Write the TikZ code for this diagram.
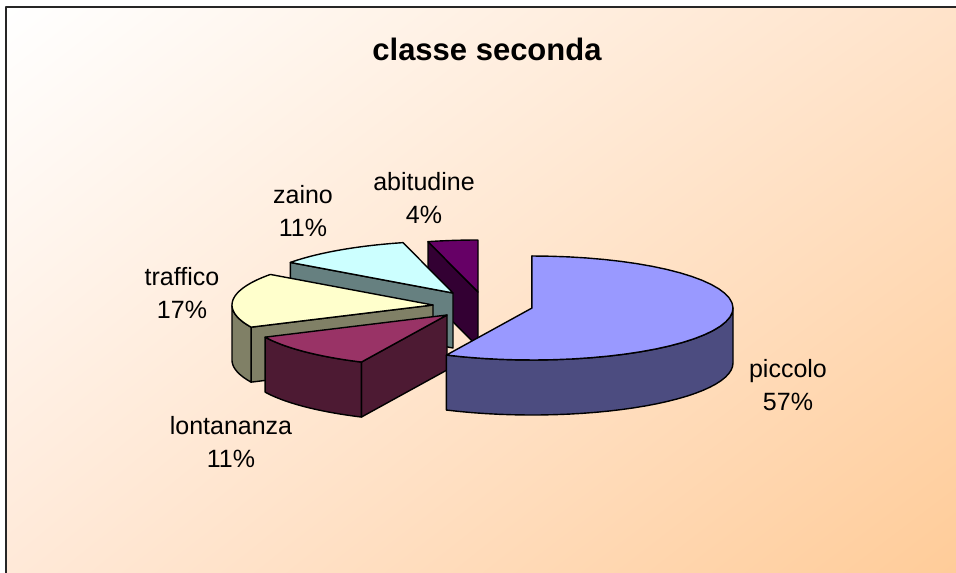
\documentclass[tikz,border=0pt]{standalone}
\usepackage{fontspec}
\setmainfont{Liberation Sans}
\usetikzlibrary{shadings}

\definecolor{toppiccolo}{HTML}{9999FF}
\definecolor{sidepiccolo}{HTML}{4C4C80}
\definecolor{toplontananza}{HTML}{993366}
\definecolor{sidelontananza}{HTML}{4D1A33}
\definecolor{toptraffico}{HTML}{FFFFCC}
\definecolor{sidetraffico}{HTML}{808066}
\definecolor{topzaino}{HTML}{CCFFFF}
\definecolor{sidezaino}{HTML}{668080}
\definecolor{topabitudine}{HTML}{660066}
\definecolor{sideabitudine}{HTML}{330033}
\definecolor{bgtr}{HTML}{FFE3CA}
\definecolor{bgbl}{HTML}{FFE9D8}
\definecolor{bgbr}{HTML}{FFCC99}

\begin{document}
\begin{tikzpicture}[x=1pt,y=-1pt,line join=round]
\tikzset{wedge/.style={draw=black, line width=1.4pt},
  lbl/.style={align=center, inner sep=0pt, font=\fontsize{25}{33}\selectfont}}
\useasboundingbox (0,0) rectangle (956,573);
\fill[white] (0,0) rectangle (956,573);
\shade[upper left=white, upper right=bgtr, lower left=bgbl, lower right=bgbr]
  (6,7) rectangle (956,573);
\draw[line width=2pt, black!85] (6,573) -- (6,7) -- (956,7);
\node[anchor=base, font=\bfseries\fontsize{31}{36}\selectfont] (title) at (487,60) {classe seconda};

% slices from back to front
\def\pierx{201} \def\piery{52} \def\pieh{55}
\foreach \n/\cx/\cy/\a/\b/\fra/\frb in
{abitudine/478/292/345.6/360/0/0, zaino/453/293/306/345.6/0/0,
 traffico/433/305/244.8/306/244.8/270, lontananza/447/315/205.2/244.8/205.2/244.8,
 piccolo/532/308/0/205.2/90/205.2}{
\filldraw[wedge, fill=side\n] (\cx,\cy) -- ({\cx+\pierx*sin(\a)},{\cy-\piery*cos(\a)})
  -- ++(0,\pieh) -- (\cx,\cy+\pieh) -- cycle;
\ifdim\frb pt>\fra pt
\filldraw[wedge, fill=side\n] plot[domain=\fra:\frb, samples=30] ({\cx+\pierx*sin(\x)},{\cy-\piery*cos(\x)})
  -- plot[domain=\frb:\fra, samples=30] ({\cx+\pierx*sin(\x)},{\cy+\pieh-\piery*cos(\x)}) -- cycle;
\fi
\filldraw[wedge, fill=top\n] (\cx,\cy) -- plot[domain=\a:\b, samples=40] ({\cx+\pierx*sin(\x)},{\cy-\piery*cos(\x)}) -- cycle;
}

\foreach \n/\px/\py/\p in {abitudine/424/198/4, zaino/303/211/11, traffico/182/293/17,
 lontananza/231/442/11, piccolo/788/385/57}
  \node[lbl] (lbl\n) at (\px,\py) {\n\\\p\%};
\end{tikzpicture}
\end{document}
